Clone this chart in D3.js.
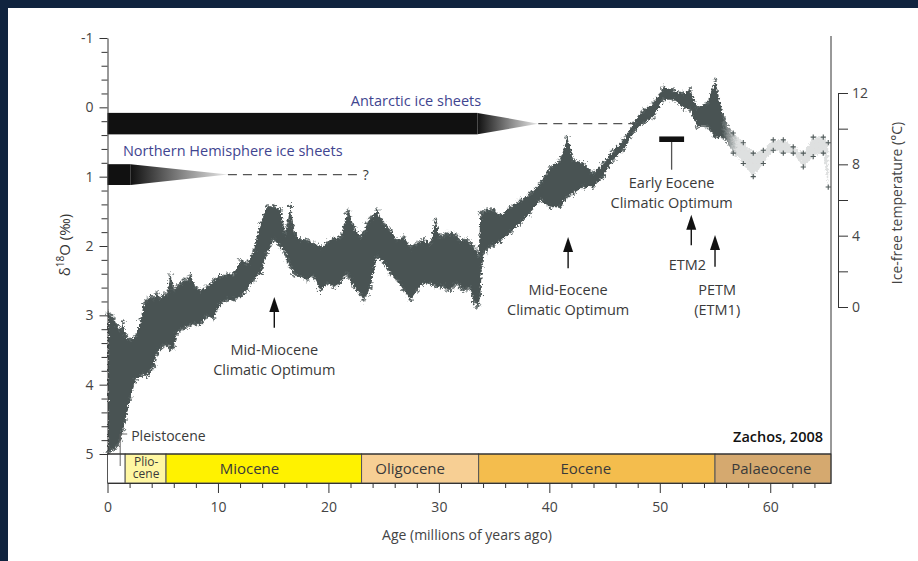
<!DOCTYPE html>
<html>
<head>
<meta charset="utf-8">
<script src="https://cdn.jsdelivr.net/npm/d3@7"></script>
<style>
  html, body { margin: 0; padding: 0; background: #10243f; }
  svg { display: block; font-family: "Open Sans", "DejaVu Sans", sans-serif; }
</style>
</head>
<body>
<svg id="chart" width="918" height="561"></svg>
<script>
// Cenozoic deep-sea benthic foraminiferal oxygen-isotope record (envelope of the data cloud)
const ageMa = [0.05,0.27,0.6,0.9,1.18,1.4,1.63,2.08,2.53,2.99,3.29,3.59,3.89,4.19,4.49,4.8,5.1,5.4,5.7,6.0,
  6.3,6.61,6.91,7.21,7.51,7.96,8.42,9.02,9.62,10.23,10.83,11.43,12.04,12.64,13.24,13.85,14.45,15.05,15.66,16.11,
  16.26,16.56,16.86,17.01,17.47,18.07,18.67,19.28,19.88,20.48,21.09,21.69,21.84,22.29,22.9,23.2,23.5,23.8,24.4,25.01,
  25.61,26.21,26.82,27.42,28.02,28.63,29.23,29.68,30.14,30.44,30.74,31.04,31.34,31.64,31.95,32.25,32.55,32.85,33.15,33.45,
  33.6,33.76,33.91,34.06,34.36,34.66,34.96,35.57,36.47,37.38,38.28,39.19,40.09,41.0,41.63,42.17,43.08,43.98,44.89,45.79,
  46.7,47.6,48.51,49.41,50.32,51.22,52.13,52.76,53.39,54.3,55.02,55.75,56.65,57.56,58.46,59.37,60.27,61.18,62.08,62.99,
  63.89,64.8,65.25];
// lightest (upper edge) δ18O values, ‰
const d18oLight = [2.97,3.0,3.04,3.15,3.21,3.09,3.28,3.36,3.3,3.07,2.83,2.78,2.73,2.75,2.68,2.75,2.7,2.68,2.42,2.63,
  2.58,2.54,2.49,2.49,2.42,2.59,2.64,2.59,2.49,2.44,2.4,2.4,2.2,2.25,2.06,1.67,1.43,1.43,1.48,1.82,
  1.7,1.43,1.72,1.82,1.91,1.91,1.96,2.01,1.95,1.89,1.87,1.53,1.5,1.72,1.87,1.8,1.67,1.6,1.48,1.67,
  1.77,1.91,1.87,2.01,1.96,1.91,1.96,1.63,1.87,1.84,1.82,1.82,1.82,1.86,1.91,1.91,1.91,1.96,2.01,2.06,
  2.15,1.52,1.53,1.5,1.48,1.48,1.48,1.55,1.44,1.34,1.24,1.09,0.86,0.76,0.43,0.76,0.8,0.95,0.8,0.62,
  0.47,0.23,0.04,-0.06,-0.29,-0.25,-0.21,-0.25,0.0,-0.06,-0.39,0.14,0.37,0.51,0.66,0.62,0.47,0.47,0.57,0.66,
  0.43,0.43,0.51];
// heaviest (lower edge) δ18O values, ‰
const d18oHeavy = [4.97,4.95,4.93,4.88,4.8,4.65,4.51,4.18,3.93,3.88,3.85,3.88,3.8,3.74,3.55,3.48,3.44,3.43,3.48,3.46,
  3.26,3.21,3.19,3.16,3.14,3.12,3.12,3.02,3.04,2.83,2.78,2.78,2.73,2.64,2.49,2.4,2.11,1.91,2.01,2.1,
  2.2,2.3,2.4,2.42,2.44,2.49,2.44,2.64,2.54,2.59,2.54,2.4,2.45,2.59,2.7,2.78,2.7,2.59,2.15,2.25,
  2.4,2.49,2.64,2.78,2.64,2.54,2.54,2.58,2.59,2.59,2.62,2.64,2.58,2.54,2.6,2.64,2.62,2.6,2.8,2.88,
  2.85,2.7,2.3,2.11,2.05,2.01,1.99,1.93,1.81,1.67,1.52,1.34,1.44,1.44,1.29,1.24,1.15,1.15,1.0,0.76,
  0.62,0.37,0.23,0.14,-0.11,-0.11,0.0,0.04,0.28,0.28,0.43,0.43,0.66,0.81,1.0,0.81,0.62,0.66,0.66,0.86,
  0.71,0.66,1.15];

// Geological epochs (Ma)
const epochNames = ["Pleistocene", "Pliocene", "Miocene", "Oligocene", "Eocene", "Palaeocene"];
const epochStartMa = [0, 1.6, 5.3, 23.0, 33.6, 55.0];
const epochEndMa = [1.6, 5.3, 23.0, 33.6, 55.0, 65.5];

// Axis ticks
const ageTicks = [0, 10, 20, 30, 40, 50, 60];
const d18oTicks = [-1, 0, 1, 2, 3, 4, 5];
const tempTicks = [0, 4, 8, 12];

// ---------- styling & layout ----------
const epochFill = ["#ffffff", "#fff7a2", "#fff200", "#f7cf94", "#f4bd4d", "#d5a96f"];
const epochLabelMa = [null, 3.5, 12.85, 27.4, 43.3, 60.1];
const cloudColor = "#495353";
const inkColor = "#3a3a3a";
const labelBlue = "#3f4590";
const sparseFromMa = 55.7;

const svg = d3.select("#chart");
svg.append("rect").attr("x", 8).attr("y", 8).attr("width", 910).attr("height", 553).attr("fill", "#fff");

const x = d3.scaleLinear().domain([0, 65.5]).range([107.5, 831]);
const y = d3.scaleLinear().domain([-1, 5]).range([38, 454]);
const yTemp = d3.scaleLinear().domain([0, 12]).range([307, 93]);
const barTop = y(5), barBottom = 483;

const defs = svg.append("defs");
const taper = defs.append("linearGradient").attr("id", "taper").attr("x1", 0).attr("x2", 1).attr("y1", 0).attr("y2", 0);
taper.append("stop").attr("offset", 0).attr("stop-color", "#111");
taper.append("stop").attr("offset", 0.55).attr("stop-color", "#8a8a8a");
taper.append("stop").attr("offset", 1).attr("stop-color", "#e8e8e8");

const fade = defs.append("linearGradient").attr("id", "cloudFade")
  .attr("gradientUnits", "userSpaceOnUse")
  .attr("x1", x(0)).attr("x2", x(65.5)).attr("y1", 0).attr("y2", 0);
fade.append("stop").attr("offset", (x(55.6) - x(0)) / (x(65.5) - x(0))).attr("stop-color", cloudColor).attr("stop-opacity", 1);
fade.append("stop").attr("offset", (x(57.0) - x(0)) / (x(65.5) - x(0))).attr("stop-color", cloudColor).attr("stop-opacity", 0.18);
fade.append("stop").attr("offset", 1).attr("stop-color", cloudColor).attr("stop-opacity", 0.18);

// ragged edge for the dense point cloud
const rough = defs.append("filter").attr("id", "rough").attr("x", "-5%").attr("y", "-10%").attr("width", "110%").attr("height", "120%");
rough.append("feTurbulence").attr("type", "fractalNoise").attr("baseFrequency", "0.45").attr("numOctaves", 2).attr("seed", 7).attr("result", "n");
rough.append("feDisplacementMap").attr("in", "SourceGraphic").attr("in2", "n").attr("scale", 6)
  .attr("xChannelSelector", "R").attr("yChannelSelector", "G");

// ---------- isotope data cloud ----------
const pts = ageMa.map((a, i) => ({ age: a, lo: d18oLight[i], hi: d18oHeavy[i] }));
const cloud = svg.append("g").attr("filter", "url(#rough)");
cloud.append("path")
  .datum(pts)
  .attr("fill", "url(#cloudFade)")
  .attr("d", d3.area().x(d => x(d.age)).y0(d => y(d.hi)).y1(d => y(d.lo)));

const cross = "M-2.6,0h5.2M0,-2.6v5.2";
const edgePts = pts.flatMap(d => [{ age: d.age, v: d.lo }, { age: d.age, v: d.hi }]);
cloud.append("g").selectAll("path").data(edgePts.filter(d => d.age < sparseFromMa)).join("path")
  .attr("transform", d => `translate(${x(d.age)},${y(d.v)})`)
  .attr("d", cross).attr("stroke", "#566060").attr("stroke-width", 1).attr("fill", "none");
// scattered samples of the sparsely sampled Palaeocene interval
svg.append("g").selectAll("path").data(edgePts.filter(d => d.age >= sparseFromMa)).join("path")
  .attr("transform", d => `translate(${x(d.age)},${y(d.v)})`)
  .attr("d", cross).attr("stroke", "#4f5959").attr("stroke-width", 1.1).attr("fill", "none");

// ---------- ice-sheet bars ----------
function iceSheet(endSolid, endTaper, endDash, top, bottom) {
  const mid = (top + bottom) / 2;
  svg.append("rect").attr("x", x(0)).attr("y", y(top))
    .attr("width", x(endSolid) - x(0)).attr("height", y(bottom) - y(top)).attr("fill", "#111");
  svg.append("path")
    .attr("d", `M${x(endSolid)},${y(top)}L${x(endTaper)},${y(mid)}L${x(endSolid)},${y(bottom)}Z`)
    .attr("fill", "url(#taper)");
  svg.append("line").attr("x1", x(endTaper)).attr("x2", x(endDash))
    .attr("y1", y(mid)).attr("y2", y(mid))
    .attr("stroke", "#555").attr("stroke-width", 1.3).attr("stroke-dasharray", "9,6");
  return mid;
}
iceSheet(33.5, 39.0, 47.6, 0.08, 0.39);
const nhMid = iceSheet(2.1, 10.9, 22.7, 0.82, 1.12);
svg.append("text").attr("x", x(23.1)).attr("y", y(nhMid) + 5).attr("font-size", 14).attr("fill", inkColor).text("?");
svg.append("text").attr("x", 416).attr("y", y(-0.02)).attr("text-anchor", "middle")
  .attr("font-size", 14.5).attr("fill", labelBlue).text("Antarctic ice sheets");
svg.append("text").attr("x", x(1.4)).attr("y", y(0.7)).attr("font-size", 14.5)
  .attr("fill", labelBlue).text("Northern Hemisphere ice sheets");

// ---------- annotations ----------
function arrow(age, tip, base) {
  const cx = x(age), ty = y(tip);
  svg.append("line").attr("x1", cx).attr("x2", cx).attr("y1", ty + 12).attr("y2", y(base))
    .attr("stroke", "#111").attr("stroke-width", 1.4);
  svg.append("path").attr("d", `M${cx},${ty}L${cx - 5},${ty + 15}L${cx + 5},${ty + 15}Z`).attr("fill", "#111");
}
function label(age, dv, lines, anchor = "middle") {
  lines.forEach((t, i) => {
    svg.append("text").attr("x", x(age)).attr("y", y(dv) + i * 20)
      .attr("text-anchor", anchor).attr("font-size", 14.5).attr("fill", inkColor).text(t);
  });
}
arrow(15.1, 2.735, 3.18);
label(15.1, 3.57, ["Mid-Miocene", "Climatic Optimum"]);
arrow(41.7, 1.87, 2.32);
label(41.7, 2.71, ["Mid-Eocene", "Climatic Optimum"]);
arrow(52.85, 1.55, 1.99);
label(52.5, 2.35, ["ETM2"]);
arrow(55.0, 1.84, 2.30);
label(55.2, 2.71, ["PETM", "(ETM1)"]);

// Early Eocene Climatic Optimum marker
svg.append("rect").attr("x", x(49.95)).attr("y", y(0.42))
  .attr("width", x(52.2) - x(49.95)).attr("height", y(0.5) - y(0.42)).attr("fill", "#111");
svg.append("line").attr("x1", x(51.07)).attr("x2", x(51.07)).attr("y1", y(0.5)).attr("y2", y(0.9))
  .attr("stroke", "#555").attr("stroke-width", 1.3);
label(51.07, 1.16, ["Early Eocene", "Climatic Optimum"]);

svg.append("text").attr("x", 823).attr("y", y(4.83)).attr("text-anchor", "end")
  .attr("font-size", 14.5).attr("font-weight", 600).attr("fill", "#111").text("Zachos, 2008");

// ---------- epoch bar ----------
const eg = svg.append("g");
epochNames.forEach((n, i) => {
  eg.append("rect").attr("x", x(epochStartMa[i])).attr("y", barTop)
    .attr("width", x(epochEndMa[i]) - x(epochStartMa[i])).attr("height", barBottom - barTop)
    .attr("fill", epochFill[i]).attr("stroke", "#555").attr("stroke-width", 1);
});
epochNames.forEach((n, i) => {
  if (i === 0) return;
  if (n === "Pliocene") {
    const t = eg.append("text").attr("x", x(epochLabelMa[i])).attr("y", 465.5)
      .attr("text-anchor", "middle").attr("font-size", 12).attr("fill", inkColor);
    t.append("tspan").attr("x", x(epochLabelMa[i])).text("Plio-");
    t.append("tspan").attr("x", x(epochLabelMa[i])).attr("dy", 12.5).text("cene");
  } else {
    eg.append("text").attr("x", x(epochLabelMa[i])).attr("y", 474).attr("text-anchor", "middle")
      .attr("font-size", 15).attr("fill", inkColor).text(n);
  }
});
// Pleistocene callout
const pbx = x(1.15);
svg.append("path").attr("d", `M${pbx},${barTop + 12}V${434}H${pbx + 7}`)
  .attr("fill", "none").attr("stroke", "#666").attr("stroke-width", 1);
svg.append("text").attr("x", pbx + 11).attr("y", 441).attr("font-size", 14).attr("fill", inkColor).text("Pleistocene");

// ---------- axes ----------
function styleAxis(g) {
  g.select(".domain").attr("stroke", "#333");
  g.selectAll(".tick line").attr("stroke", "#333");
  g.selectAll(".tick text").attr("fill", "#444").attr("font-size", 14).attr("font-family", "Open Sans, sans-serif");
}
const left = svg.append("g").attr("transform", `translate(${x(0)},0)`)
  .call(d3.axisLeft(y).tickValues(d18oTicks).tickSize(8).tickPadding(6).tickSizeOuter(0).tickFormat(d => String(d)));
styleAxis(left);
const minorD = d3.range(-1, 5.001, 0.2).filter(v => Math.abs(v - Math.round(v)) > 1e-6);
const leftMinor = svg.append("g").attr("transform", `translate(${x(0)},0)`)
  .call(d3.axisLeft(y).tickValues(minorD).tickSize(6).tickFormat(""));
leftMinor.select(".domain").remove();
leftMinor.selectAll(".tick line").attr("stroke", "#333");

const bottom = svg.append("g").attr("transform", `translate(0,${barBottom})`)
  .call(d3.axisBottom(x).tickValues(ageTicks).tickSize(10).tickPadding(9).tickSizeOuter(0));
styleAxis(bottom);
const minorA = d3.range(0, 65, 2).filter(v => v % 10 !== 0);
const bottomMinor = svg.append("g").attr("transform", `translate(0,${barBottom})`)
  .call(d3.axisBottom(x).tickValues(minorA).tickSize(5).tickFormat(""));
bottomMinor.select(".domain").remove();
bottomMinor.selectAll(".tick line").attr("stroke", "#333");

// plot frame: baseline and right edge
svg.append("line").attr("x1", x(0)).attr("x2", x(65.5)).attr("y1", barTop).attr("y2", barTop).attr("stroke", "#222");
svg.append("line").attr("x1", x(65.5)).attr("x2", x(65.5)).attr("y1", 36).attr("y2", barBottom).attr("stroke", "#333");

// temperature axis
const right = svg.append("g").attr("transform", "translate(838,0)")
  .call(d3.axisRight(yTemp).tickValues(tempTicks).tickSize(10).tickPadding(4).tickSizeOuter(0));
styleAxis(right);
const rightMinor = svg.append("g").attr("transform", "translate(838,0)")
  .call(d3.axisRight(yTemp).tickValues([2, 6, 10]).tickSize(10).tickFormat(""));
rightMinor.select(".domain").remove();
rightMinor.selectAll(".tick line").attr("stroke", "#333");

// axis titles
svg.append("text").attr("x", 467).attr("y", 540).attr("text-anchor", "middle")
  .attr("font-size", 14).attr("fill", "#444").text("Age (millions of years ago)");
const yt = svg.append("text").attr("transform", "translate(70,245) rotate(-90)")
  .attr("text-anchor", "middle").attr("font-size", 15).attr("fill", "#333");
yt.append("tspan").text("δ");
yt.append("tspan").attr("font-size", 10).attr("dy", -6).text("18");
yt.append("tspan").attr("dy", 6).text("O (‰)");
svg.append("text").attr("transform", "translate(902,203) rotate(-90)").attr("text-anchor", "middle")
  .attr("font-size", 14).attr("fill", "#444").text("Ice-free temperature (°C)");
</script>
</body>
</html>
